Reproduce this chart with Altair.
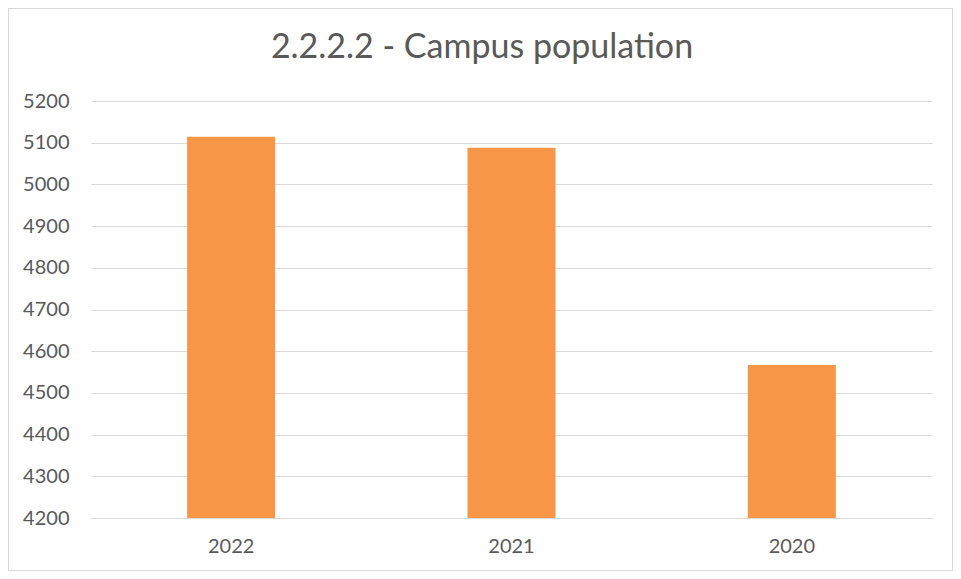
import altair as alt
import pandas as pd

years = ["2022", "2021", "2020"]
population = [5114, 5088, 4567]
title_text = "2.2.2.2 - Campus population"

df = pd.DataFrame({"year": years, "population": population})

FONT = "Lato"
W, H = 841, 417

bars = alt.Chart(df).mark_bar(color="#F79646", clip=True).encode(
    x=alt.X("year:N", sort=years,
            scale=alt.Scale(paddingInner=0.686, paddingOuter=0.343),
            axis=alt.Axis(title=None, labelAngle=0, ticks=False, domain=True,
                          domainColor="#d9d9d9", labelFont=FONT, labelFontSize=20,
                          labelColor="#595959", labelPadding=18)),
    y=alt.Y("population:Q",
            scale=alt.Scale(domain=[4200, 5200], zero=False, nice=False),
            axis=alt.Axis(title=None, values=list(range(4200, 5201, 100)), ticks=False,
                          domain=False, grid=True, gridColor="#d9d9d9", format="d",
                          labelFont=FONT, labelFontSize=20, labelColor="#595959",
                          labelPadding=22)),
)

title = alt.Chart(pd.DataFrame({"t": [title_text]})).mark_text(
    font=FONT, fontSize=34, color="#595959", align="center",
    baseline="alphabetic", clip=False
).encode(text="t:N", x=alt.value(W / 2 - 29.5), y=alt.value(-43))

border = alt.Chart(df).mark_rect(fill=None, stroke="#d9d9d9", strokeWidth=1, clip=False).encode(
    x=alt.value(-82.5), x2=alt.value(W + 20.5), y=alt.value(-92.5), y2=alt.value(H + 52.5)
)

chart = alt.layer(bars, title, border).properties(
    width=W, height=H,
    autosize=alt.AutoSizeParams(type="none"),
    padding={"left": 83, "top": 93, "right": 21, "bottom": 53},
    background="white",
).configure_view(stroke=None)

chart.save("out.html", embed_options={"renderer": "svg", "actions": False})
